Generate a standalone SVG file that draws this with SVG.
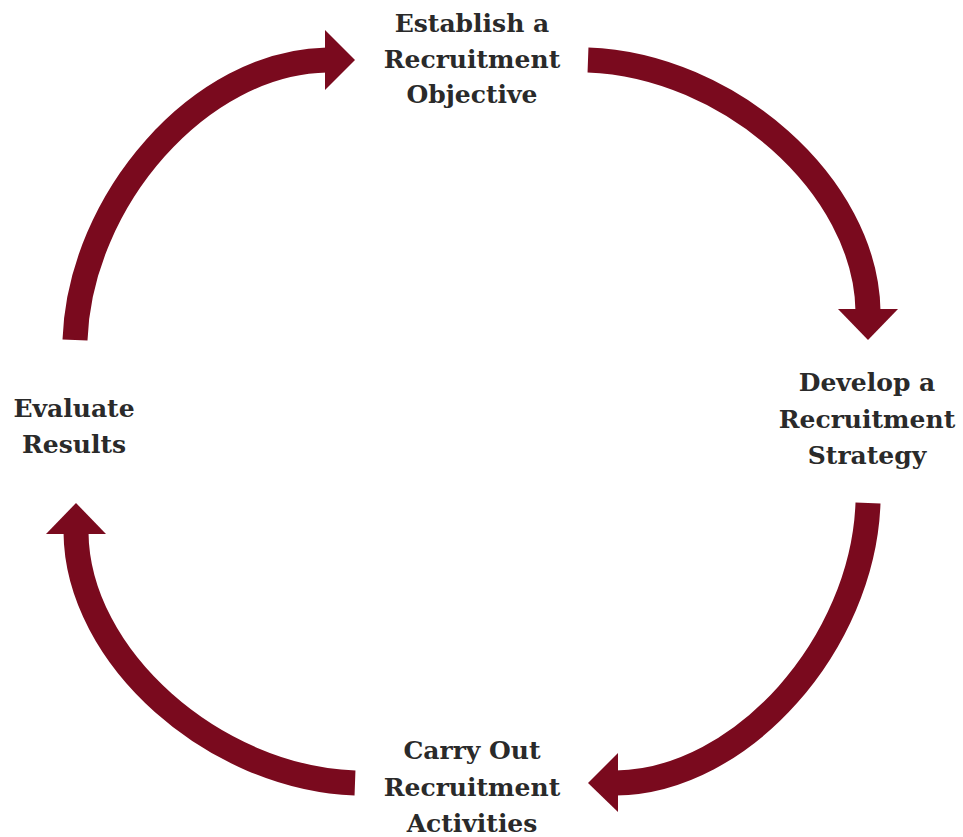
<svg xmlns="http://www.w3.org/2000/svg" width="963" height="837" viewBox="0 0 963 837">
<style>
.bg{fill:#ffffff}
.lbl{font-family:"DejaVu Serif","Liberation Serif",serif;font-weight:bold;font-size:25px;fill:#2a2a2a;text-anchor:middle}
.shaft{fill:none;stroke:#7a0a1e;stroke-width:25;stroke-linecap:butt}
.head{fill:#7a0a1e}
</style>
<rect class="bg" x="0" y="0" width="963" height="837"/>
<g id="connectors">
<g id="arrow-top-left">
<path class="shaft" d="M75,340 C80,200 200,62 327,60"/>
<polygon class="head" points="325,30 355,60 325,90"/>
</g>
<g id="arrow-top-right">
<path class="shaft" d="M588,60 C728,65 866,185 868,311"/>
<polygon class="head" points="838,309 868,340 898,309"/>
</g>
<g id="arrow-bottom-right">
<path class="shaft" d="M868,503 C863,643 743,781 616,783"/>
<polygon class="head" points="618,753 588,783 618,812"/>
</g>
<g id="arrow-bottom-left">
<path class="shaft" d="M355,783 C215,778 77,658 76,532"/>
<polygon class="head" points="46,534 76,503 106,534"/>
</g>
</g>
<g id="node-establish">
<text class="lbl" x="472" y="32">Establish a</text>
<text class="lbl" x="472" y="68">Recruitment</text>
<text class="lbl" x="472" y="103">Objective</text>
</g>
<g id="node-develop">
<text class="lbl" x="867" y="391">Develop a</text>
<text class="lbl" x="867" y="428">Recruitment</text>
<text class="lbl" x="867" y="464">Strategy</text>
</g>
<g id="node-carry-out">
<text class="lbl" x="472" y="759">Carry Out</text>
<text class="lbl" x="472" y="796">Recruitment</text>
<text class="lbl" x="472" y="832">Activities</text>
</g>
<g id="node-evaluate">
<text class="lbl" x="74" y="417">Evaluate</text>
<text class="lbl" x="74" y="453">Results</text>
</g>
</svg>
